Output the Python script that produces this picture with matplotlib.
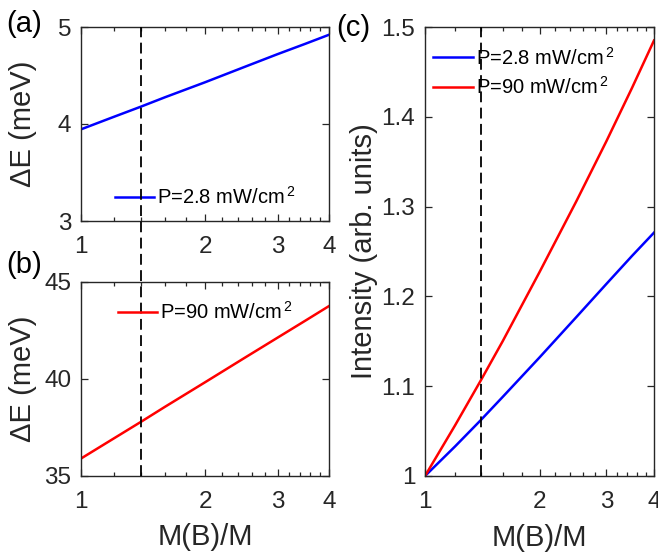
#!/usr/bin/env python3
# pip install matplotlib numpy

import matplotlib.pyplot as plt
from matplotlib.ticker import FixedLocator, NullFormatter
import numpy as np

# M(B)/M sample points (log axis)
X_RATIO = [1.0, 1.2, 1.4, 1.6, 2.0, 2.5, 3.0, 3.5, 4.0]

# (a) Delta E at P = 2.8 mW/cm^2  (meV)
DE_LOW = [3.945, 4.073, 4.18, 4.276, 4.43, 4.59, 4.72, 4.826, 4.92]
# (b) Delta E at P = 90 mW/cm^2  (meV)
DE_HIGH = [35.9, 36.93, 37.8, 38.57, 39.83, 41.1, 42.13, 43.0, 43.76]
# (c) normalised intensity
INT_LOW = [1.0, 1.033, 1.062, 1.088, 1.132, 1.177, 1.214, 1.245, 1.271]
INT_HIGH = [1.0, 1.0565, 1.106, 1.150, 1.227, 1.306, 1.373, 1.432, 1.485]

X_MARK = 1.4
LBL_LOW = r"P=2.8 mW/cm$^{\,2}$"
LBL_HIGH = r"P=90 mW/cm$^{\,2}$"

AX_COLOR = "#262626"
plt.rcParams["font.family"] = ["Liberation Sans", "DejaVu Sans"]
plt.rcParams["mathtext.fontset"] = "custom"
plt.rcParams["mathtext.rm"] = "Liberation Sans"
plt.rcParams["mathtext.it"] = "Liberation Sans"

W, H = 658, 552
fig = plt.figure(figsize=(W / 100, H / 100), dpi=100)


def px_axes(left, top, right, bottom):
    return fig.add_axes([left / W, (H - bottom) / H, (right - left) / W, (bottom - top) / H])


def style(ax, yticks, ylim, ylabels=None):
    ax.set_xscale("log")
    ax.set_xlim(1, 4)
    ax.set_ylim(*ylim)
    ax.xaxis.set_major_locator(FixedLocator([1, 2, 3, 4]))
    ax.set_xticklabels(["1", "2", "3", "4"])
    minors = [v for v in np.arange(1.2, 4.0, 0.2) if abs(v - round(v)) > 1e-6]
    ax.xaxis.set_minor_locator(FixedLocator(minors))
    ax.xaxis.set_minor_formatter(NullFormatter())
    ax.set_yticks(yticks)
    if ylabels is not None:
        ax.set_yticklabels(ylabels)
    ax.tick_params(which="both", direction="in", top=True, right=True,
                   colors=AX_COLOR, labelsize=17.5, width=0.9)
    ax.tick_params(axis="x", which="both", pad=11)
    ax.tick_params(axis="y", which="both", pad=7)
    ax.tick_params(which="major", length=5)
    ax.tick_params(which="minor", length=3)
    for s in ax.spines.values():
        s.set_color(AX_COLOR)
        s.set_linewidth(1.0)


ax_a = px_axes(81, 27, 329, 221)
ax_b = px_axes(81, 282, 329, 476)
ax_c = px_axes(425, 27, 654, 476)

leg_kw = dict(loc="center left", frameon=False, fontsize=14.5, handlelength=1.95,
              handletextpad=0.15, borderpad=0, borderaxespad=0)

# (a)
ax_a.plot(X_RATIO, DE_LOW, color="blue", lw=1.8, label=LBL_LOW)
style(ax_a, [3, 4, 5], (3, 5))
ax_a.set_ylabel(r"ΔE (meV)", fontsize=21, color=AX_COLOR)
ax_a.yaxis.set_label_coords((37 - 81) / 248, 0.5)
ax_a.legend(bbox_to_anchor=(0.137, 0.124), **leg_kw)

# (b)
ax_b.plot(X_RATIO, DE_HIGH, color="red", lw=1.8, label=LBL_HIGH)
style(ax_b, [35, 40, 45], (35, 45))
ax_b.set_ylabel(r"ΔE (meV)", fontsize=21, color=AX_COLOR)
ax_b.yaxis.set_label_coords((37 - 81) / 248, 0.5)
ax_b.set_xlabel("M(B)/M", fontsize=21, color=AX_COLOR)
ax_b.xaxis.set_label_coords(0.5, (476 - 523) / 194)
ax_b.legend(bbox_to_anchor=(0.149, 0.845), **leg_kw)
# dashed marker spanning (b) up through (a)
ax_b.axvline(X_MARK, ymin=0, ymax=(476 - 27) / 194, color="black", lw=1.3,
             dashes=(6, 3), clip_on=False, zorder=5)

# (c)
ax_c.plot(X_RATIO, INT_LOW, color="blue", lw=1.8, label=LBL_LOW)
ax_c.plot(X_RATIO, INT_HIGH, color="red", lw=1.8, label=LBL_HIGH)
ax_c.axvline(X_MARK, color="black", lw=1.3, dashes=(6, 3), zorder=5)
style(ax_c, [1, 1.1, 1.2, 1.3, 1.4, 1.5], (1, 1.5),
      ["1", "1.1", "1.2", "1.3", "1.4", "1.5"])
ax_c.set_ylabel("Intensity (arb. units)", fontsize=21, color=AX_COLOR)
ax_c.yaxis.set_label_coords((378 - 425) / 229, 0.5)
ax_c.set_xlabel("M(B)/M", fontsize=21, color=AX_COLOR)
ax_c.xaxis.set_label_coords(0.5, (476 - 524) / 449)
leg_c = dict(leg_kw, handlelength=2.0, labelspacing=0.4)
ax_c.legend(bbox_to_anchor=(0.035, 0.899), **leg_c)

# panel letters
for txt, x, y in [("(a)", 6, 24), ("(b)", 6, 265), ("(c)", 336, 28)]:
    fig.text(x / W, 1 - y / H, txt, fontsize=21, color="black", ha="left", va="center")

plt.savefig("out.png", dpi=100)
plt.close()
